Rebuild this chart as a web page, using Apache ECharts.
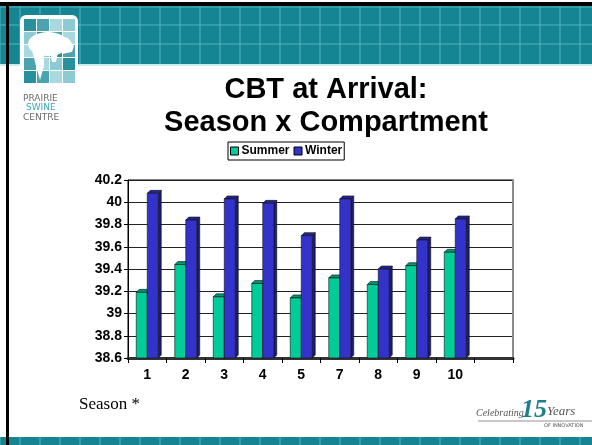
<!DOCTYPE html>
<html>
<head>
<meta charset="utf-8">
<script src="https://cdn.jsdelivr.net/npm/echarts@6/dist/echarts.min.js"></script>
<style>
  html, body { margin: 0; padding: 0; background: #fff; }
  #chart { width: 592px; height: 445px; }
</style>
</head>
<body>
<div id="chart"></div>
<script>
// compartments (last slot is empty in the original)
const compartments = ['1', '2', '3', '4', '5', '7', '8', '9', '10', ''];
const summerCBT = [39.19, 39.44, 39.15, 39.27, 39.14, 39.32, 39.26, 39.43, 39.55];
const winterCBT = [40.08, 39.84, 40.03, 39.99, 39.70, 40.03, 39.40, 39.66, 39.85];
const yTicks = { min: 38.6, max: 40.2, step: 0.2 };

const TEAL = '#158594';
const GRID_LINE = '#56b3bf';

// 3D-ish bar: front face + side + top
function bar3d(offset, front, side, topc) {
    return (params, api) => {
        const i = api.value(0);
        const top = api.coord([i, api.value(1)]);
        const base = api.coord([i, yTicks.min]);
        const w = 11, d = 3, dy = 3;
        const x0 = top[0] + offset;
        const y0 = top[1], y1 = base[1];
        const edge = { stroke: '#111', lineWidth: 0.6 };
        return {
            type: 'group',
            children: [
                { type: 'polygon', shape: { points: [[x0 + w, y0], [x0 + w + d, y0 - dy], [x0 + w + d, y1 - dy], [x0 + w, y1]] },
                  style: Object.assign({ fill: side }, edge) },
                { type: 'polygon', shape: { points: [[x0, y0], [x0 + d, y0 - dy], [x0 + w + d, y0 - dy], [x0 + w, y0]] },
                  style: Object.assign({ fill: topc }, edge) },
                { type: 'rect', shape: { x: x0, y: y0, width: w, height: y1 - y0 },
                  style: Object.assign({ fill: front }, edge) }
            ]
        };
    };
}

function deco() {
    const g = [];
    // top banner
    g.push({ type: 'rect', shape: { x: 0, y: 3, width: 592, height: 63 }, style: { fill: TEAL } });
    for (let x = 0; x <= 592; x += 20) {
        g.push({ type: 'line', shape: { x1: x, y1: 6, x2: x, y2: 64 }, style: { stroke: GRID_LINE, lineWidth: 1 } });
    }
    [7, 25, 44].forEach(y => g.push({ type: 'line', shape: { x1: 0, y1: y, x2: 592, y2: y }, style: { stroke: GRID_LINE, lineWidth: 1 } }));
    g.push({ type: 'rect', shape: { x: 0, y: 64, width: 592, height: 2 }, style: { fill: '#c6ecf0' } });
    g.push({ type: 'rect', shape: { x: 0, y: 2, width: 592, height: 4 }, style: { fill: '#000' } });
    // bottom banner
    g.push({ type: 'rect', shape: { x: 0, y: 437, width: 592, height: 8 }, style: { fill: TEAL } });
    for (let x = 0; x <= 592; x += 20) {
        g.push({ type: 'line', shape: { x1: x, y1: 437, x2: x, y2: 445 }, style: { stroke: GRID_LINE, lineWidth: 1 } });
    }
    // left slide border
    g.push({ type: 'rect', shape: { x: 6, y: 2, width: 3, height: 443 }, style: { fill: '#000' } });

    // logo tile
    g.push({ type: 'rect', shape: { x: 20, y: 15, width: 58, height: 70, r: 6 }, style: { fill: '#fff' } });
    const cols = ['#2a8f9c', '#8ccbd3', '#a9d9df', '#4aa3ae'];
    for (let r = 0; r < 5; r++) {
        for (let c = 0; c < 4; c++) {
            g.push({ type: 'rect', shape: { x: 24 + c * 13, y: 19 + r * 13, width: 12, height: 12 },
                     style: { fill: cols[(r + c * 3) % 4] } });
        }
    }
    // pig silhouette
    g.push({ type: 'ellipse', shape: { cx: 48, cy: 44, rx: 20, ry: 12 }, style: { fill: '#fff' } });
    g.push({ type: 'polygon', shape: { points: [[60, 36], [68, 38], [74, 46], [72, 52], [62, 54]] }, style: { fill: '#fff' } });
    g.push({ type: 'polygon', shape: { points: [[32, 50], [44, 52], [44, 66], [40, 80], [36, 66]] }, style: { fill: '#fff' } });
    g.push({ type: 'polygon', shape: { points: [[50, 52], [58, 52], [56, 62], [52, 62]] }, style: { fill: '#fff' } });
    g.push({ type: 'text', style: { x: 23, y: 94, text: 'PRAIRIE', fill: '#6b6b6b', font: '9px "DejaVu Sans"' } });
    g.push({ type: 'text', style: { x: 26, y: 103.5, text: 'SWINE', fill: '#38a8b8', font: '9px "DejaVu Sans"' } });
    g.push({ type: 'text', style: { x: 23, y: 113, text: 'CENTRE', fill: '#6b6b6b', font: '9px "DejaVu Sans"' } });

    // titles
    g.push({ type: 'text', style: { x: 326, y: 90, text: 'CBT at Arrival:', align: 'center', verticalAlign: 'middle',
             fill: '#000', font: 'bold 29px Arial, "Liberation Sans"' } });
    g.push({ type: 'text', style: { x: 326, y: 123, text: 'Season x Compartment', align: 'center', verticalAlign: 'middle',
             fill: '#000', font: 'bold 29px Arial, "Liberation Sans"' } });

    // footnote
    g.push({ type: 'text', style: { x: 79, y: 405, text: 'Season *', verticalAlign: 'middle',
             fill: '#000', font: '17px "Times New Roman", "Liberation Serif"' } });

    // anniversary mark
    g.push({ type: 'text', style: { x: 476, y: 413, text: 'Celebrating', verticalAlign: 'middle',
             fill: '#555', font: 'italic 10px "Liberation Serif"' } });
    g.push({ type: 'text', style: { x: 521, y: 410, text: '15', verticalAlign: 'middle',
             fill: '#1d7f8c', font: 'italic bold 26px "Liberation Serif"' } });
    g.push({ type: 'text', style: { x: 547, y: 412, text: 'Years', verticalAlign: 'middle',
             fill: '#555', font: 'italic 13px "Liberation Serif"' } });
    g.push({ type: 'line', shape: { x1: 478, y1: 421, x2: 592, y2: 421 }, style: { stroke: '#777', lineWidth: 0.8 } });
    g.push({ type: 'text', style: { x: 544, y: 426, text: 'OF INNOVATION', verticalAlign: 'middle',
             fill: '#555', font: '5px "DejaVu Sans"' } });
    return g;
}

const chart = echarts.init(document.getElementById('chart'));
chart.setOption({
    backgroundColor: '#fff',
    animation: false,
    graphic: { elements: deco() },
    legend: {
        data: ['Summer', 'Winter'],
        left: 228, top: 142,
        icon: 'rect', itemWidth: 8, itemHeight: 8, itemGap: 4,
        padding: [3, 2, 3, 2],
        borderColor: '#000', borderWidth: 1, backgroundColor: '#fff',
        itemStyle: { borderColor: '#000', borderWidth: 1 },
        textStyle: { fontFamily: 'Arial, "Liberation Sans"', fontWeight: 'bold', fontSize: 12, color: '#000', padding: [0, 0, 0, -2] }
    },
    grid: { left: 128, right: 79, top: 180, bottom: 87, show: true, borderColor: '#000', borderWidth: 1, backgroundColor: '#fff' },
    xAxis: {
        type: 'category', data: compartments,
        axisLine: { lineStyle: { color: '#333', width: 3 } },
        axisTick: { show: true, length: 5, lineStyle: { color: '#000' } },
        axisLabel: { color: '#000', fontFamily: 'Arial, "Liberation Sans"', fontWeight: 'bold', fontSize: 14, margin: 10 }
    },
    yAxis: [
        {
            type: 'value', min: yTicks.min, max: yTicks.max, interval: yTicks.step,
            axisLine: { show: true, lineStyle: { color: '#000' } },
            axisTick: { show: true, length: 4, lineStyle: { color: '#000' } },
            splitLine: { lineStyle: { color: '#222', width: 1 } },
            axisLabel: { color: '#000', fontFamily: 'Arial, "Liberation Sans"', fontWeight: 'bold', fontSize: 14, margin: 6,
                         formatter: v => String(parseFloat(v.toFixed(1))) }
        },
        {
            type: 'value', min: yTicks.min, max: yTicks.max, interval: yTicks.step, position: 'right',
            axisLine: { show: true, lineStyle: { color: '#8a8a8a', width: 2 } },
            axisTick: { show: false }, axisLabel: { show: false }, splitLine: { show: false }
        }
    ],
    series: [
        {
            name: 'Summer', type: 'custom',
            itemStyle: { color: '#00cc99' },
            renderItem: bar3d(-11, '#00cc99', '#00805f', '#009470'),
            encode: { x: 0, y: 1 },
            data: summerCBT.map((v, i) => [i, v])
        },
        {
            name: 'Winter', type: 'custom',
            itemStyle: { color: '#3333cc' },
            renderItem: bar3d(0, '#3333cc', '#1c1c6e', '#252590'),
            encode: { x: 0, y: 1 },
            data: winterCBT.map((v, i) => [i, v])
        }
    ]
});
</script>
</body>
</html>
